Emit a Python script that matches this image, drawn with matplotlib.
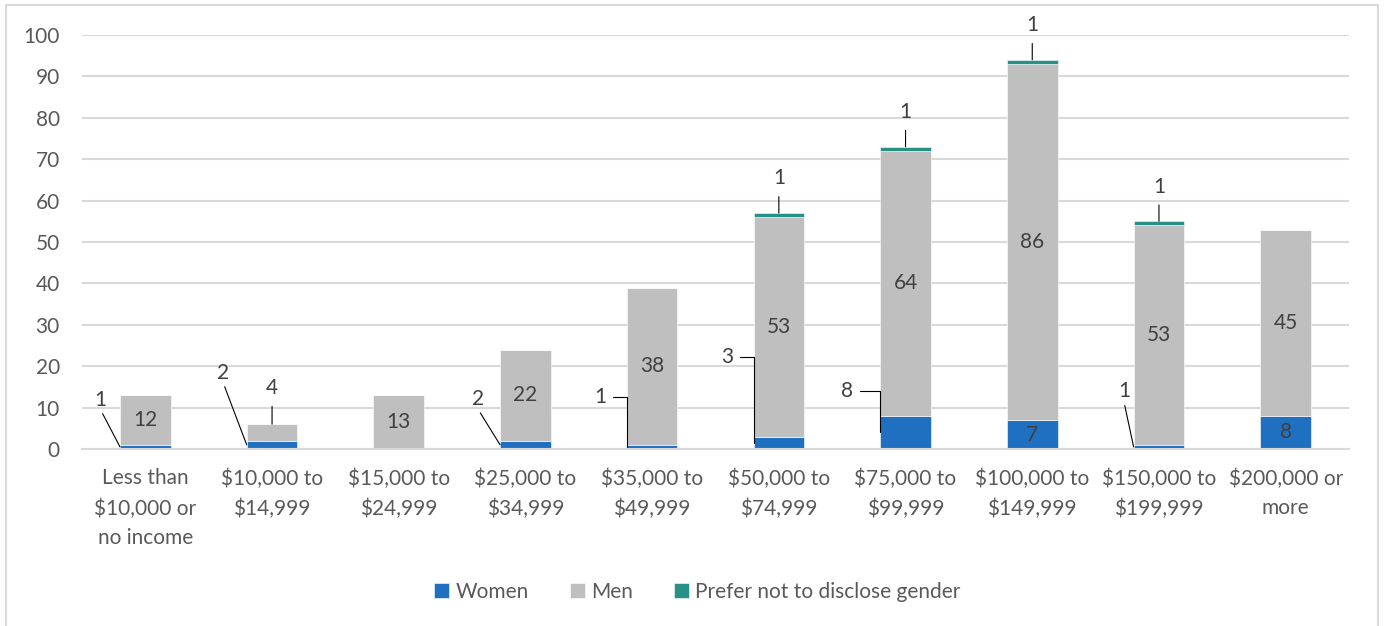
from matplotlib import pyplot as plt
from matplotlib.patches import Rectangle
import numpy as np

categories = ['Less than\n$10,000 or\nno income', '$10,000 to\n$14,999', '$15,000 to\n$24,999',
              '$25,000 to\n$34,999', '$35,000 to\n$49,999', '$50,000 to\n$74,999',
              '$75,000 to\n$99,999', '$100,000 to\n$149,999', '$150,000 to\n$199,999',
              '$200,000 or\nmore']
women = [1, 2, 0, 2, 1, 3, 8, 7, 1, 8]
men = [12, 4, 13, 22, 38, 53, 64, 86, 53, 45]
prefer = [0, 0, 0, 0, 0, 1, 1, 1, 1, 0]

# label offsets (points) for the small women values, with the kind of leader line
women_callouts = {0: (-14, 34, 'diag'), 1: (-17, 52, 'diag'), 3: (-16, 33, 'diag'),
                  4: (-19, 36, 'elbow'), 5: (-19, 62, 'elbow'), 6: (-24, 30, 'elbow'),
                  8: (-7, 40, 'diag')}

plt.rcParams['font.family'] = ['Lato', 'DejaVu Sans']

c_women = '#1F70C1'
c_men = '#BFBFBF'
c_pref = '#279187'
txt = '#595959'
lbl = '#404040'

fig = plt.figure(figsize=(13.84, 6.26), dpi=100)
ax = fig.add_axes([82 / 1384, 1 - 449 / 626, (1349 - 82) / 1384, (449 - 35) / 626])

x = np.arange(len(categories))
w = 0.4
women = np.array(women)
men = np.array(men)
prefer = np.array(prefer)

ax.bar(x, women, w, color=c_women, label='Women', zorder=3, edgecolor='white', linewidth=0.4)
ax.bar(x, men, w, bottom=women, color=c_men, label='Men', zorder=3, edgecolor='white', linewidth=0.4)
ax.bar(x, prefer, w, bottom=women + men, color=c_pref, label='Prefer not to disclose gender',
       zorder=3, edgecolor='white', linewidth=0.4)

fs = 15
for i in x:
    # women
    if women[i] > 0:
        if i in women_callouts:
            dx, dy, kind = women_callouts[i]
            if kind == 'diag':
                ap = dict(arrowstyle='-', color='black', lw=0.8, shrinkA=1, shrinkB=0,
                          relpos=(0.5, 0.0))
            else:
                ap = dict(arrowstyle='-', color='black', lw=0.8, shrinkA=3, shrinkB=0,
                          relpos=(1.0, 0.5), connectionstyle='angle,angleA=0,angleB=90,rad=0')
            ax.annotate(str(women[i]), xy=(i - w / 2, women[i] / 2), xytext=(dx, dy),
                        textcoords='offset points', ha='center', va='center', fontsize=fs,
                        color=lbl, arrowprops=ap, zorder=5)
        else:
            ax.text(i, women[i] / 2, str(women[i]), ha='center', va='center', fontsize=fs,
                    color=lbl, zorder=5)
    # men
    if men[i] >= 10:
        ax.text(i, women[i] + men[i] / 2, str(men[i]), ha='center', va='center', fontsize=fs,
                color=lbl, zorder=5)
    else:
        ax.annotate(str(men[i]), xy=(i, women[i] + men[i]), xytext=(0, 26),
                    textcoords='offset points', ha='center', va='center', fontsize=fs, color=lbl,
                    arrowprops=dict(arrowstyle='-', color='black', lw=0.8, shrinkA=4, shrinkB=0),
                    zorder=5)
    # prefer
    if prefer[i] > 0:
        ax.annotate(str(prefer[i]), xy=(i, women[i] + men[i] + prefer[i]), xytext=(0, 25),
                    textcoords='offset points', ha='center', va='center', fontsize=fs, color=lbl,
                    arrowprops=dict(arrowstyle='-', color='black', lw=0.8, shrinkA=4, shrinkB=0),
                    zorder=5)

ax.set_xlim(-0.5, len(categories) - 0.5)
ax.set_ylim(0, 100)
ax.set_yticks(np.arange(0, 101, 10))
ax.set_xticks(x)
ax.set_xticklabels(categories, fontsize=fs, color=txt, linespacing=1.6)
ax.tick_params(axis='y', length=0, pad=16, labelsize=fs, labelcolor=txt)
ax.tick_params(axis='x', length=0, pad=14)
ax.grid(axis='y', color='#D9D9D9', linewidth=1.5, zorder=0)
for s in ['top', 'right', 'left']:
    ax.spines[s].set_visible(False)
ax.spines['bottom'].set_color('#D9D9D9')
ax.spines['bottom'].set_linewidth(1.5)
ax.spines['bottom'].set_zorder(4)

fig.legend(loc='center', bbox_to_anchor=(0.504, 1 - 592 / 626), ncol=3, frameon=False,
           fontsize=fs, labelcolor=txt, handlelength=0.7, handleheight=0.7,
           handletextpad=0.3, columnspacing=2.0)

fig.patches.append(Rectangle((5.5 / 1384, -0.02), (1378 - 5.5) / 1384, 1.02 - 5.5 / 626,
                             transform=fig.transFigure, fill=False, edgecolor='#D9D9D9',
                             linewidth=1.5))

fig.savefig('out.png', dpi=100)
